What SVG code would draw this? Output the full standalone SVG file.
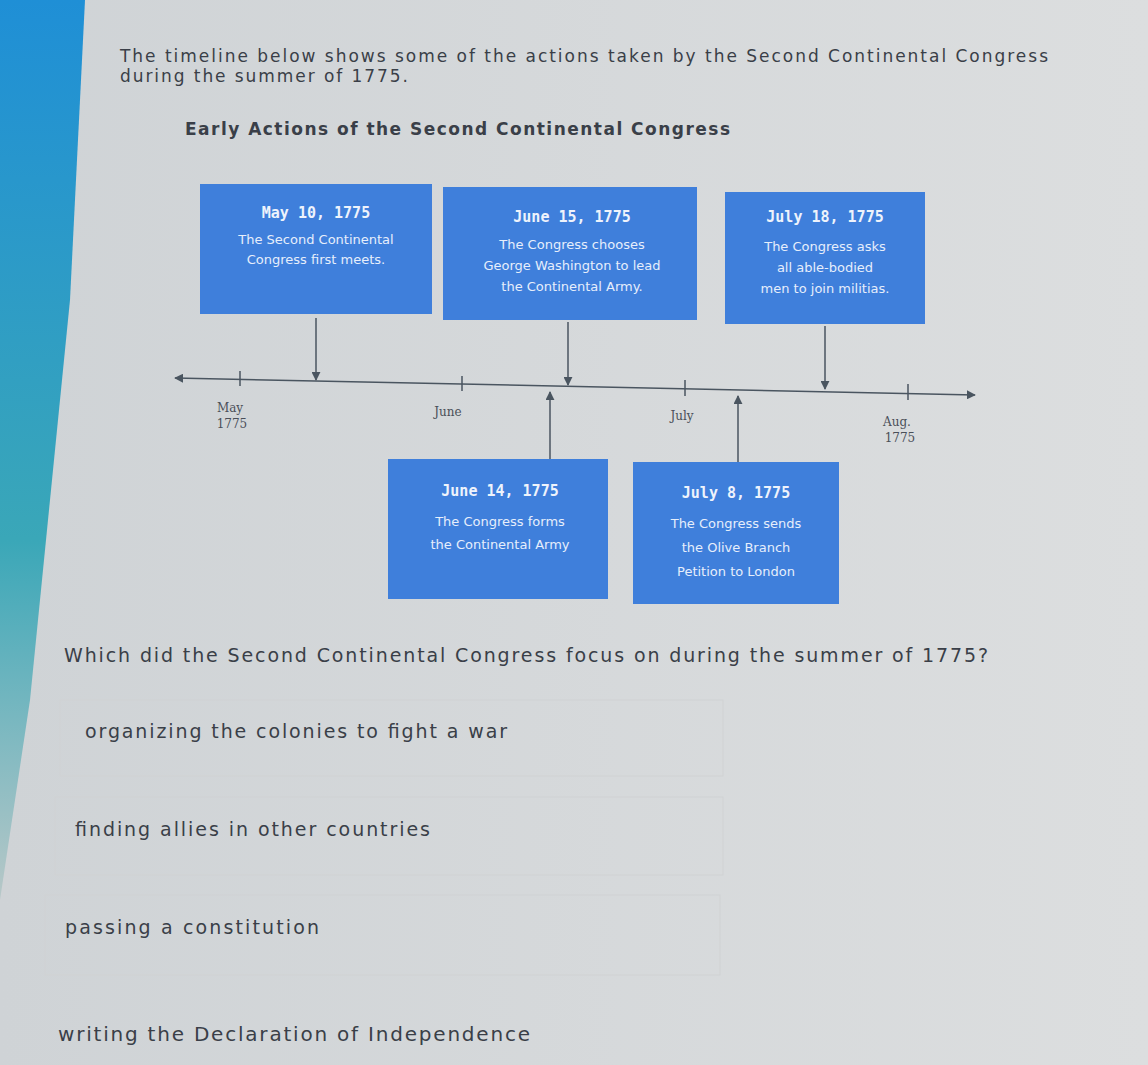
<svg xmlns="http://www.w3.org/2000/svg" width="1148" height="1065" viewBox="0 0 1148 1065">
<defs>
<linearGradient id="bg" x1="0" y1="0" x2="1" y2="0"><stop offset="0" stop-color="#cfd3d6"/><stop offset="1" stop-color="#dcdedf"/></linearGradient>
<linearGradient id="strip" x1="0" y1="0" x2="0" y2="1"><stop offset="0" stop-color="#1f8fd6"/><stop offset="0.6" stop-color="#3aa7b8"/><stop offset="1" stop-color="#b8c8c8"/></linearGradient>
<marker id="ah" viewBox="0 0 10 10" refX="9" refY="5" markerWidth="6" markerHeight="6" orient="auto-start-reverse"><path d="M0,0L10,5L0,10z" fill="#4a5560"/></marker>
</defs>
<style>
.t{font-family:"DejaVu Sans","Liberation Sans",sans-serif;fill:#3a3f48}
.box{fill:#3f7fdb}
.bt{font-family:"DejaVu Sans",sans-serif;fill:#e6eefb;font-size:13px;text-anchor:middle}
.bh{font-family:"DejaVu Sans Mono",monospace;fill:#eef3fc;font-size:15px;font-weight:bold;text-anchor:middle}
.ln{stroke:#4a5560;stroke-width:1.5;fill:none}
.lab{font-family:"DejaVu Serif",serif;fill:#4a4f58;font-size:12px;text-anchor:middle}
.opt{fill:none;stroke:#d0d2d3;stroke-width:1}
</style>
<rect width="1148" height="1065" fill="url(#bg)"/>
<path d="M0,0H85L70,300L30,700L0,900Z" fill="url(#strip)"/>
<text class="t" x="120" y="62" font-size="17" textLength="928">The timeline below shows some of the actions taken by the Second Continental Congress</text>
<text class="t" x="120" y="82" font-size="17" textLength="288">during the summer of 1775.</text>
<text class="t" x="185" y="135" font-size="17" font-weight="bold" textLength="545">Early Actions of the Second Continental Congress</text>
<g id="connectors">
<line class="ln" x1="175" y1="378" x2="975" y2="395" marker-start="url(#ah)" marker-end="url(#ah)"/>
<line class="ln" x1="240" y1="371" x2="240" y2="386"/>
<line class="ln" x1="462" y1="376" x2="462" y2="391"/>
<line class="ln" x1="685" y1="380" x2="685" y2="396"/>
<line class="ln" x1="908" y1="384" x2="908" y2="400"/>
<line class="ln" x1="316" y1="318" x2="316" y2="380" marker-end="url(#ah)"/>
<line class="ln" x1="568" y1="322" x2="568" y2="385" marker-end="url(#ah)"/>
<line class="ln" x1="825" y1="326" x2="825" y2="389" marker-end="url(#ah)"/>
<line class="ln" x1="550" y1="460" x2="550" y2="392" marker-end="url(#ah)"/>
<line class="ln" x1="738" y1="462" x2="738" y2="396" marker-end="url(#ah)"/>
<text class="lab" x="230" y="412">May</text><text class="lab" x="232" y="428">1775</text>
<text class="lab" x="448" y="416">June</text>
<text class="lab" x="682" y="420">July</text>
<text class="lab" x="897" y="426">Aug.</text><text class="lab" x="900" y="442">1775</text>
</g>
<g id="n1"><rect class="box" x="200" y="184" width="232" height="130"/><text class="bh" x="316" y="218">May 10, 1775</text><text class="bt" x="316" y="244">The Second Continental</text><text class="bt" x="316" y="264">Congress first meets.</text></g>
<g id="n2"><rect class="box" x="443" y="187" width="254" height="133"/><text class="bh" x="572" y="222">June 15, 1775</text><text class="bt" x="572" y="249">The Congress chooses</text><text class="bt" x="572" y="270">George Washington to lead</text><text class="bt" x="572" y="291">the Continental Army.</text></g>
<g id="n3"><rect class="box" x="725" y="192" width="200" height="132"/><text class="bh" x="825" y="222">July 18, 1775</text><text class="bt" x="825" y="251">The Congress asks</text><text class="bt" x="825" y="272">all able-bodied</text><text class="bt" x="825" y="293">men to join militias.</text></g>
<g id="n4"><rect class="box" x="388" y="459" width="220" height="140"/><text class="bh" x="500" y="496">June 14, 1775</text><text class="bt" x="500" y="526">The Congress forms</text><text class="bt" x="500" y="549">the Continental Army</text></g>
<g id="n5"><rect class="box" x="633" y="462" width="206" height="142"/><text class="bh" x="736" y="498">July 8, 1775</text><text class="bt" x="736" y="528">The Congress sends</text><text class="bt" x="736" y="552">the Olive Branch</text><text class="bt" x="736" y="576">Petition to London</text></g>
<text class="t" x="64" y="662" font-size="19" textLength="924">Which did the Second Continental Congress focus on during the summer of 1775?</text>
<rect class="opt" x="60" y="700" width="663" height="76"/>
<text class="t" x="85" y="738" font-size="19" textLength="422">organizing the colonies to fight a war</text>
<rect class="opt" x="55" y="797" width="668" height="78"/>
<text class="t" x="75" y="836" font-size="19" textLength="355">finding allies in other countries</text>
<rect class="opt" x="45" y="895" width="675" height="80"/>
<text class="t" x="65" y="934" font-size="19" textLength="254">passing a constitution</text>
<text class="t" x="58" y="1041" font-size="20" textLength="472">writing the Declaration of Independence</text>
</svg>
